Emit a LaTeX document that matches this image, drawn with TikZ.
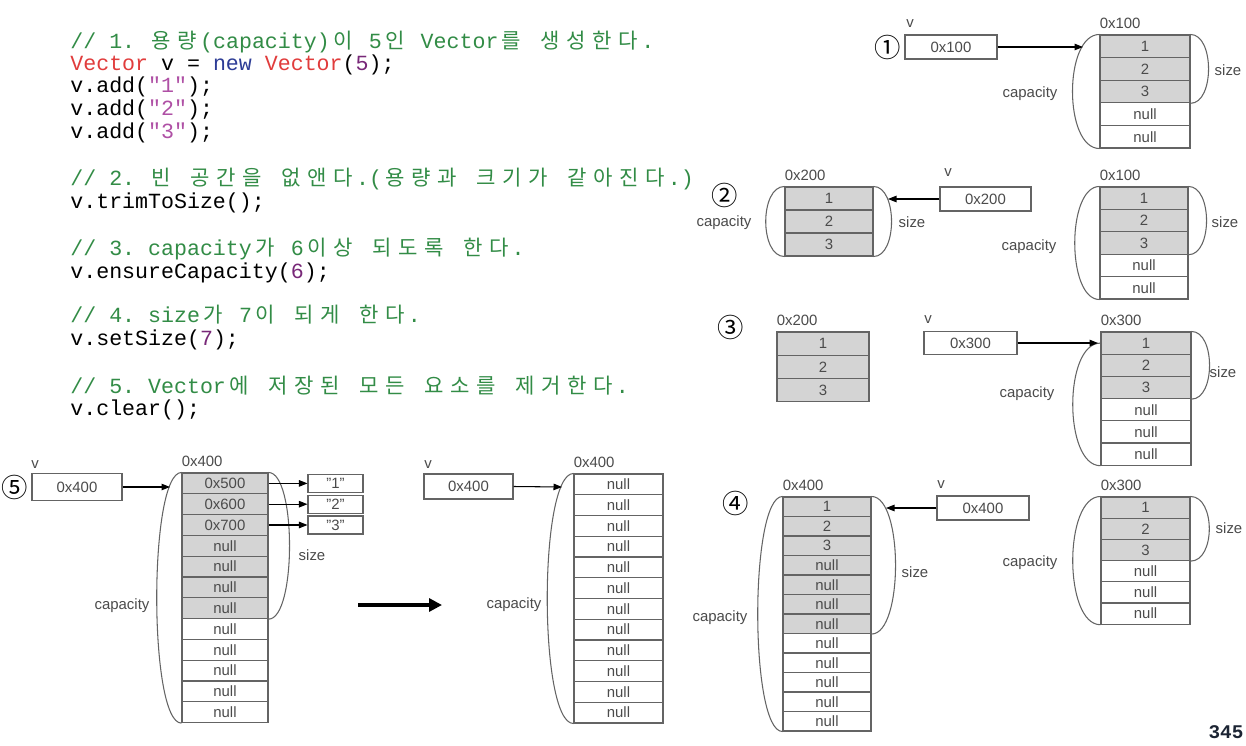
\documentclass[tikz,border=0pt]{standalone}
\usepackage{fontspec}
\setmainfont{Liberation Sans}
\setmonofont{Liberation Mono}
\newfontfamily\kr{Noto Sans CJK KR}
\usetikzlibrary{arrows.meta,calc}
\definecolor{cmt}{RGB}{50,140,70}
\definecolor{vred}{RGB}{225,60,60}
\definecolor{vblue}{RGB}{45,60,150}
\definecolor{vnum}{RGB}{120,40,120}
\definecolor{vstr}{RGB}{175,80,165}
\definecolor{linegray}{RGB}{100,100,100}
\definecolor{txtgray}{RGB}{75,75,75}
\definecolor{cellgray}{RGB}{212,212,212}
\definecolor{pagenum}{RGB}{28,36,51}
\newcommand\codefont{\fontsize{12.3}{14}\selectfont\ttfamily}
\newcommand\lblfont{\fontsize{8.5}{10}\selectfont}
\newcommand\circfont{\fontsize{15}{16}\selectfont\kr}
\newcommand\px[1]{#1*0.02cm}
\newcommand\K[1]{\Kloop#1\relax}
\def\Kloop#1{\ifx#1\relax\else\makebox[0.52cm]{\kr\fontsize{12}{14}\selectfont#1}\expandafter\Kloop\fi}
\newcommand\mkarr[7]{%
  \foreach \lab [count=\i] in {#7} {%
    \ifnum\i>#6\relax\def\cf{white}\else\def\cf{cellgray}\fi
    \node[cell, fill=\cf, minimum width=\px{#4}, minimum height=\px{#5}] (#1-\i) at (#2,{#3+#5*\i-#5/2}) {\lab};
  }%
}
\tikzset{
  code/.style={anchor=base west, inner sep=0pt, font=\codefont},
  cell/.style={draw=linegray, line width=0.6pt, inner sep=0pt, font=\lblfont, text=txtgray},
  vbox/.style={draw=linegray, line width=0.6pt, inner sep=0pt, font=\lblfont, text=txtgray},
  lbl/.style={inner sep=0pt, font=\lblfont, text=txtgray},
  circ/.style={inner sep=0pt, font=\circfont},
  brace/.style={draw=linegray, line width=0.6pt},
  arr/.style={draw=black, line width=0.6pt, -{Triangle[length=1.7mm,width=1.3mm]}},
  bigarr/.style={draw=black, line width=1.8pt, -{Triangle[length=2.6mm,width=2.6mm]}},
}
\begin{document}
\begin{tikzpicture}[x=0.02cm,y=-0.02cm]
\fill[white] (0,0) rectangle (1246,746);
\useasboundingbox (0,0) rectangle (1246,746);

% ---------------- code ----------------
\node[code, text=cmt] (c1) at (70,49) {// 1. \K{용량}(capacity)\K{이} 5\K{인} Vector\K{를} \K{생성한다}.};
\node[code] (c2) at (70,70.5) {\textcolor{vred}{Vector} v = \textcolor{vblue}{new} \textcolor{vred}{Vector}(\textcolor{vnum}{5});};
\node[code] (c3) at (70,93) {v.add(\textcolor{vstr}{"1"});};
\node[code] (c4) at (70,116) {v.add(\textcolor{vstr}{"2"});};
\node[code] (c5) at (70,139) {v.add(\textcolor{vstr}{"3"});};
\node[code, text=cmt] (c6) at (70,185.5) {// 2. \K{빈} \K{공간을} \K{없앤다}.(\K{용량과} \K{크기가} \K{같아진다}.)};
\node[code] (c7) at (70,208.5) {v.trimToSize();};
\node[code, text=cmt] (c8) at (70,255.5) {// 3. capacity\K{가} 6\K{이상} \K{되도록} \K{한다}.};
\node[code] (c9) at (70,278.5) {v.ensureCapacity(\textcolor{vnum}{6});};
\node[code, text=cmt] (c10) at (70,322.5) {// 4. size\K{가} 7\K{이} \K{되게} \K{한다}.};
\node[code] (c11) at (70,345.5) {v.setSize(\textcolor{vnum}{7});};
\node[code, text=cmt] (c12) at (70,393.5) {// 5. Vector\K{에} \K{저장된} \K{모든} \K{요소를} \K{제거한다}.};
\node[code] (c13) at (70,415.5) {v.clear();};

% ---------------- panel 1 ----------------
\node[circ] (n1) at (888,47) {①};
\node[lbl] (v1l) at (910,24) {v};
\node[vbox, minimum width=\px{92}, minimum height=\px{24}] (v1) at (951,47) {0x100};
\mkarr{A1}{1145}{35}{90}{22.6}{3}{1,2,3,null,null}
\node[lbl, anchor=south west] (A1a) at ($(A1-1.north west)+(0,-5)$) {0x100};
\draw[brace] (A1-1.north west) .. controls +(-36,0) and +(-36,0) .. (A1-5.south west);
\draw[brace] (A1-1.north east) .. controls +(24,0) and +(24,0) .. (A1-3.south east);
\node[lbl] (A1cap) at (1030,94) {capacity};
\node[lbl] (A1size) at (1228,70) {size};
\coordinate (t1) at (1083,47);
\draw[arr] (v1.east) -- (t1);

% ---------------- panel 2 ----------------
\node[circ] (n2) at (725,195) {②};
\mkarr{B1}{829}{187}{88}{23}{3}{1,2,3}
\node[lbl, anchor=south west] (B1a) at ($(B1-1.north west)+(0,-5)$) {0x200};
\draw[brace] (B1-1.north west) .. controls +(-25,0) and +(-25,0) .. (B1-3.south west);
\draw[brace] (B1-1.north east) .. controls +(24,0) and +(24,0) .. (B1-3.south east);
\node[lbl] (B1cap) at (724,223) {capacity};
\node[lbl] (B1size) at (912,222) {size};
\node[lbl] (v2l) at (948,173) {v};
\node[vbox, minimum width=\px{91}, minimum height=\px{24}] (v2) at (985.5,199) {0x200};
\coordinate (t2) at (888,199);
\draw[arr] (v2.west) -- (t2);
\mkarr{B2}{1144}{187}{88}{22.4}{3}{1,2,3,null,null}
\node[lbl, anchor=south west] (B2a) at ($(B2-1.north west)+(0,-5)$) {0x100};
\draw[brace] (B2-1.north west) .. controls +(-33,0) and +(-33,0) .. (B2-5.south west);
\draw[brace] (B2-1.north east) .. controls +(24,0) and +(24,0) .. (B2-3.south east);
\node[lbl] (B2cap) at (1029,247) {capacity};
\node[lbl] (B2size) at (1225,222) {size};

% ---------------- panel 3 ----------------
\node[circ] (n3) at (731,327) {③};
\mkarr{C1}{823}{332}{92}{23.3}{3}{1,2,3}
\node[lbl, anchor=south west] (C1a) at ($(C1-1.north west)+(0,-5)$) {0x200};
\node[lbl] (v3l) at (928,320) {v};
\node[vbox, minimum width=\px{93}, minimum height=\px{23}] (v3) at (970.5,343) {0x300};
\mkarr{C2}{1146}{332}{90}{22.2}{3}{1,2,3,null,null,null}
\node[lbl, anchor=south west] (C2a) at ($(C2-1.north west)+(0,-5)$) {0x300};
\draw[brace] (C2-1.west) .. controls +(-37,0) and +(-37,0) .. (C2-6.south west);
\draw[brace] (C2-1.north east) .. controls +(24,0) and +(24,0) .. (C2-3.south east);
\node[lbl] (C2cap) at (1027,394) {capacity};
\node[lbl] (C2size) at (1223,372) {size};
\coordinate (t3) at (1098,343);
\draw[arr] (v3.east) -- (t3);

% ---------------- panel 4 ----------------
\node[circ] (n4) at (736,503) {④};
\mkarr{D1}{827}{497}{88}{19.5}{7}{1,2,3,null,null,null,null,null,null,null,null,null}
\node[lbl, anchor=south west] (D1a) at ($(D1-1.north west)+(0,-5)$) {0x400};
\draw[brace] (D1-1.north west) .. controls +(-33,0) and +(-33,0) .. (D1-12.south west);
\draw[brace] (D1-1.north east) .. controls +(32,0) and +(32,0) .. (D1-7.south east);
\node[lbl] (D1cap) at (720,618) {capacity};
\node[lbl] (D1size) at (915,572) {size};
\node[lbl] (v4l) at (941,485) {v};
\node[vbox, minimum width=\px{92}, minimum height=\px{24}] (v4) at (983,508) {0x400};
\coordinate (t4) at (886,508);
\draw[arr] (v4.west) -- (t4);
\mkarr{D2}{1145.5}{497}{89}{21.2}{3}{1,2,3,null,null,null}
\node[lbl, anchor=south west] (D2a) at ($(D2-1.north west)+(0,-5)$) {0x300};
\draw[brace] (D2-1.north west) .. controls +(-37,0) and +(-37,0) .. (D2-6.south west);
\draw[brace] (D2-1.north east) .. controls +(25,0) and +(25,0) .. (D2-3.south east);
\node[lbl] (D2cap) at (1030,563) {capacity};
\node[lbl] (D2size) at (1229,528) {size};
\node[inner sep=0pt, font=\fontsize{11}{12}\selectfont\ttfamily\bfseries, text=pagenum] (pg) at (1226,732) {345};

% ---------------- panel 5 (left) ----------------
\node[circ] (n5) at (15,487) {⑤};
\node[lbl] (v5l) at (35,465) {v};
\node[vbox, minimum width=\px{90}, minimum height=\px{27}] (v5) at (77,487) {0x400};
\mkarr{E1}{225}{473}{86}{20.8}{7}{0x500,0x600,0x700,null,null,null,null,null,null,null,null,null}
\node[lbl, anchor=south west] (E1a) at ($(E1-1.north west)+(0,-5)$) {0x400};
\draw[brace] (E1-1.north west) .. controls +(-33,0) and +(-33,0) .. (E1-12.south west);
\draw[brace] (E1-1.north east) .. controls +(28,0) and +(28,0) .. (E1-7.south east);
\node[lbl] (E1cap) at (122,606) {capacity};
\node[lbl] (E1size) at (312,555) {size};
\coordinate (t5) at (170,487);
\draw[arr] (v5.east) -- (t5);
\foreach \k in {1,2,3} {
  \node[vbox, minimum width=\px{55}, minimum height=\px{18}] (s\k) at ($(E1-\k.center)+(110.5,0)$) {"\k"};
  \draw[arr] (E1-\k.east) -- (s\k.west);
}
\coordinate (b1) at (358,605);
\coordinate (b2) at (442,605);
\draw[bigarr] (b1) -- (b2);

% ---------------- panel 5 (right) ----------------
\node[lbl] (v6l) at (428,465) {v};
\node[vbox, minimum width=\px{89}, minimum height=\px{25}] (v6) at (468.5,486.5) {0x400};
\mkarr{E2}{618.5}{474}{89}{20.75}{0}{null,null,null,null,null,null,null,null,null,null,null,null}
\node[lbl, anchor=south west] (E2a) at ($(E2-1.north west)+(0,-5)$) {0x400};
\draw[brace] (E2-1.north west) .. controls +(-35,0) and +(-35,0) .. (E2-12.south west);
\node[lbl] (E2cap) at (514,605) {capacity};
\coordinate (t6) at (562,487);
\draw[arr] (v6.east) -- (t6);
\end{tikzpicture}
\end{document}
